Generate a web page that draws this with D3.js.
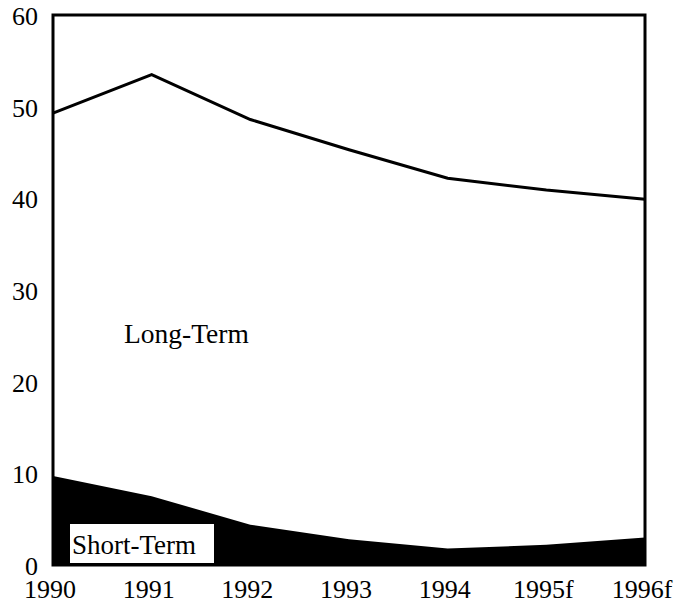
<!DOCTYPE html>
<html>
<head>
<meta charset="utf-8">
<script src="https://cdn.jsdelivr.net/npm/d3@7"></script>
<style>
  body { margin: 0; background: #fff; }
  text { font-family: "Liberation Serif", "DejaVu Serif", serif; fill: #000; }
</style>
</head>
<body>
<div id="chart"></div>
<script>
// values (billions)
const years = ["1990", "1991", "1992", "1993", "1994", "1995f", "1996f"];
const shortTerm = [9.7, 7.5, 4.4, 2.8, 1.8, 2.2, 3.0];
const total = [49.3, 53.5, 48.6, 45.3, 42.2, 40.9, 39.9];
const yTicks = [0, 10, 20, 30, 40, 50, 60];

const width = 687, height = 605;
const margin = { top: 15, right: 42, bottom: 40, left: 53 };

const svg = d3.select("#chart")
  .append("svg")
  .attr("width", width)
  .attr("height", height);

const x = d3.scalePoint()
  .domain(years)
  .range([margin.left, width - margin.right]);

const y = d3.scaleLinear()
  .domain([0, 60])
  .range([height - margin.bottom, margin.top]);

const rows = years.map((yr, i) => ({ year: yr, short: shortTerm[i], total: total[i] }));

// short-term area, solid black
const shortArea = d3.area()
  .x(d => x(d.year))
  .y0(y(0))
  .y1(d => y(d.short));

svg.append("path")
  .datum(rows)
  .attr("d", shortArea)
  .attr("fill", "#000");

// total (long-term on top) line
const totalLine = d3.line()
  .x(d => x(d.year))
  .y(d => y(d.total));

svg.append("path")
  .datum(rows)
  .attr("d", totalLine)
  .attr("fill", "none")
  .attr("stroke", "#000")
  .attr("stroke-width", 3);

// frame
svg.append("rect")
  .attr("x", margin.left)
  .attr("y", margin.top)
  .attr("width", width - margin.left - margin.right)
  .attr("height", height - margin.top - margin.bottom)
  .attr("fill", "none")
  .attr("stroke", "#000")
  .attr("stroke-width", 3);

// y labels
svg.selectAll(".ylab")
  .data(yTicks)
  .join("text")
  .attr("class", "ylab")
  .attr("x", 38)
  .attr("y", d => y(d) + 10)
  .attr("text-anchor", "end")
  .attr("font-size", 26)
  .text(d => d);

// x labels
svg.selectAll(".xlab")
  .data(years)
  .join("text")
  .attr("class", "xlab")
  .attr("x", d => x(d) - 3)
  .attr("y", 598)
  .attr("text-anchor", "middle")
  .attr("font-size", 26)
  .text(d => d);

// series labels
svg.append("text")
  .attr("x", 124)
  .attr("y", 343)
  .attr("font-size", 27.5)
  .text("Long-Term");

const stBox = svg.append("g");
stBox.append("rect")
  .attr("x", 70)
  .attr("y", 524)
  .attr("width", 144)
  .attr("height", 39)
  .attr("fill", "#fff");
stBox.append("text")
  .attr("x", 72)
  .attr("y", 554)
  .attr("font-size", 27)
  .text("Short-Term");
</script>
</body>
</html>
